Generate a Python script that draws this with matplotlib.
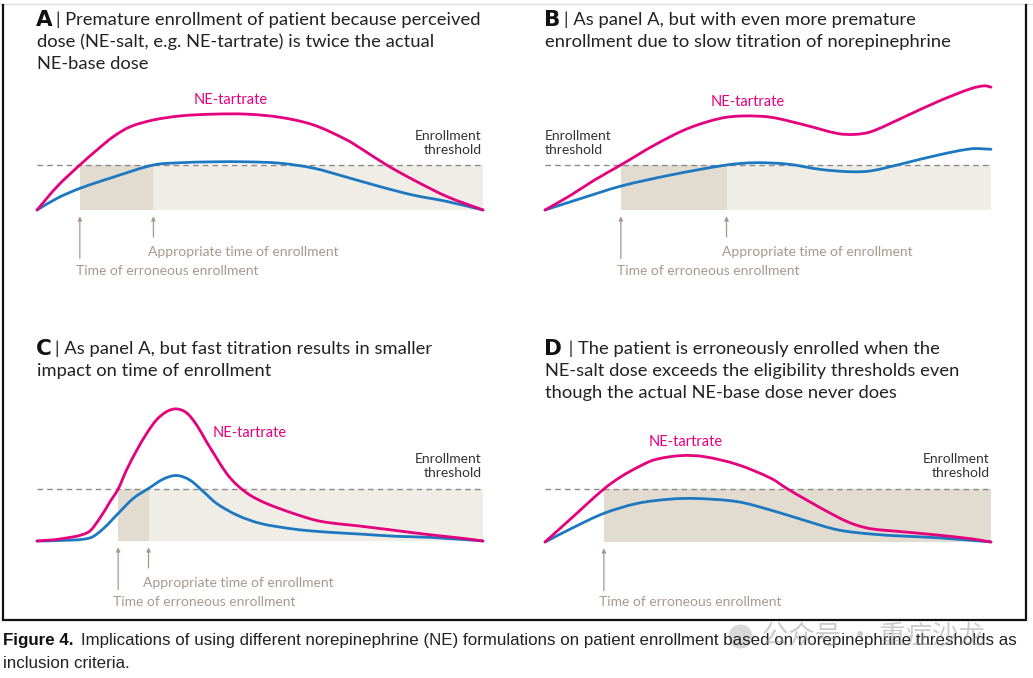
import matplotlib
matplotlib.use("Agg")
from matplotlib import pyplot as plt
from matplotlib import font_manager
from matplotlib.path import Path
from matplotlib.patches import PathPatch

W, H = 1033, 678

# time axis 0..100 (arbitrary), dose in units of the enrollment threshold (1 = threshold)
a_t_tart = [0, 4.5, 9.6, 13.4, 17.1, 20.9, 26.1, 32.1, 39.5, 47.0, 54.5, 62.0, 69.4, 73.2, 78.4, 84.4, 91.9, 100]
a_tart = [0, 0.52, 1.0, 1.33, 1.63, 1.85, 2.0, 2.09, 2.13, 2.13, 2.06, 1.89, 1.56, 1.33, 1.0, 0.67, 0.30, 0]
a_t_base = [0, 4.5, 9.6, 17.1, 26.1, 32.1, 39.5, 47.0, 54.5, 62.0, 69.4, 76.9, 84.4, 91.9, 100]
a_base = [0, 0.26, 0.48, 0.73, 1.0, 1.05, 1.07, 1.07, 1.04, 0.93, 0.73, 0.52, 0.33, 0.19, 0]

b_t_tart = [0, 5.8, 11.0, 17.0, 24.5, 32.0, 39.5, 44.7, 50.7, 58.2, 65.6, 69.4, 73.1, 80.6, 88.1, 95.6, 98.6, 100]
b_tart = [0, 0.33, 0.66, 1.0, 1.44, 1.81, 2.04, 2.09, 2.06, 1.89, 1.70, 1.68, 1.74, 2.07, 2.41, 2.70, 2.76, 2.73]
b_t_base = [0, 8.5, 17.0, 28.3, 40.7, 46.9, 54.4, 61.9, 68.6, 73.1, 80.6, 88.1, 95.6, 100]
b_base = [0, 0.27, 0.53, 0.78, 1.0, 1.05, 1.02, 0.90, 0.85, 0.87, 1.04, 1.22, 1.36, 1.35]

c_t_tart = [0, 5.2, 11.5, 14.1, 16.4, 18.2, 20.1, 22.4, 24.6, 26.8, 29.1, 31.3, 33.6, 35.8, 38.0,
            40.3, 42.5, 44.8, 47.8, 51.5, 57.5, 63.5, 73.1, 80.6, 88.1, 95.6, 100]
c_tart = [0, 0.04, 0.17, 0.44, 0.76, 1.0, 1.37, 1.75, 2.07, 2.33, 2.49, 2.54, 2.46, 2.23, 1.91,
          1.59, 1.30, 1.08, 0.88, 0.72, 0.53, 0.38, 0.28, 0.20, 0.12, 0.05, 0]
c_t_base = [0, 5.2, 11.9, 14.9, 18.2, 21.6, 25.0, 28.3, 31.3, 34.3, 37.3, 40.3, 44.8, 50.0,
            57.5, 63.5, 73.1, 80.6, 88.1, 100]
c_base = [0, 0.01, 0.06, 0.24, 0.53, 0.82, 1.01, 1.19, 1.26, 1.17, 0.95, 0.72, 0.50, 0.34,
          0.23, 0.18, 0.13, 0.09, 0.07, 0]

d_t_tart = [0, 5.8, 13.2, 17.0, 20.8, 24.5, 30.5, 35.7, 43.2, 50.7, 54.4, 58.1, 65.6, 69.4, 73.1, 80.6, 88.1, 95.6, 100]
d_tart = [0, 0.44, 1.0, 1.23, 1.41, 1.55, 1.63, 1.61, 1.46, 1.20, 1.0, 0.82, 0.47, 0.33, 0.25, 0.19, 0.13, 0.06, 0]
d_t_base = [0, 5.8, 13.2, 20.8, 28.3, 34.2, 43.2, 50.7, 58.1, 65.6, 73.1, 80.6, 88.1, 100]
d_base = [0, 0.25, 0.54, 0.73, 0.81, 0.82, 0.76, 0.60, 0.41, 0.23, 0.15, 0.11, 0.08, 0]

# enrollment times (erroneous, appropriate); None = never appropriate
a_enroll = (9.6, 26.1)
b_enroll = (17.0, 40.7)
c_enroll = (18.2, 25.0)
d_enroll = (13.2, None)

threshold = 1.0

titles = {
    "A": "| Premature enrollment of patient because perceived\ndose (NE-salt, e.g. NE-tartrate) is twice the actual\nNE-base dose",
    "B": "| As panel A, but with even more premature\nenrollment due to slow titration of norepinephrine",
    "C": "| As panel A, but fast titration results in smaller\nimpact on time of enrollment",
    "D": " | The patient is erroneously enrolled when the\nNE-salt dose exceeds the eligibility thresholds even\nthough the actual NE-base dose never does",
}

MAGENTA = "#E5007D"
BLUE = "#1C78C0"
TAUPE = "#A8998F"
LIGHT = "#F0EDE7"
DARK = "#E2DBD0"

names = {f.name for f in font_manager.fontManager.ttflist}
narrow = "Liberation Sans Narrow" if "Liberation Sans Narrow" in names else "Liberation Sans"
TFONT = ["Lato", "DejaVu Sans"]

fig = plt.figure(figsize=(W / 100, H / 100), dpi=100)
fig.patch.set_facecolor("white")

# overlay in pixel coordinates for frame and text
ov = fig.add_axes([0, 0, 1, 1])
ov.set_xlim(0, W)
ov.set_ylim(H, 0)
ov.axis("off")


def smooth_curve(ax, t, y, color, z):
    # draw the read points as one smooth bezier path (hermite tangents)
    n = len(t)
    slopes = []
    for i in range(n):
        a = max(i - 1, 0)
        b = min(i + 1, n - 1)
        slopes.append((y[b] - y[a]) / (t[b] - t[a]))
    verts = [(t[0], y[0])]
    codes = [Path.MOVETO]
    for i in range(n - 1):
        dt = (t[i + 1] - t[i]) / 3
        verts += [(t[i] + dt, y[i] + slopes[i] * dt),
                  (t[i + 1] - dt, y[i + 1] - slopes[i + 1] * dt),
                  (t[i + 1], y[i + 1])]
        codes += [Path.CURVE4] * 3
    ax.add_patch(PathPatch(Path(verts, codes), fill=False, edgecolor=color, lw=2.0,
                           zorder=z, clip_on=False, capstyle="round", joinstyle="round"))


def panel(x0, x1, ybase, unit, ymax, tt, tart, tb, base, enroll, all_dark=False):
    ax = fig.add_axes([x0 / W, (H - ybase) / H, (x1 - x0) / W, unit * ymax / H])
    ax.set_xlim(0, 100)
    ax.set_ylim(0, ymax)
    ax.axis("off")
    err, app = enroll
    if all_dark:
        ax.fill_between([err, 100], 0, threshold, color=DARK, lw=0, zorder=1)
    else:
        ax.fill_between([err, 100], 0, threshold, color=LIGHT, lw=0, zorder=1)
        ax.fill_between([err, app], 0, threshold, color=DARK, lw=0, zorder=1)
    ax.plot([0, 100], [threshold, threshold], color="#8a8a8a", lw=1.0,
            dashes=(4, 3), zorder=2, clip_on=False)
    smooth_curve(ax, tb, base, BLUE, 3)
    smooth_curve(ax, tt, tart, MAGENTA, 4)
    # arrows below the baseline
    ax.annotate("", xy=(err, -0.14 * 45 / unit), xytext=(err, -1.08 * 45 / unit),
                arrowprops=dict(arrowstyle="-|>", color=TAUPE, lw=0.9,
                                mutation_scale=6, shrinkA=0, shrinkB=0),
                annotation_clip=False)
    if app is not None:
        ax.annotate("", xy=(app, -0.14 * 45 / unit), xytext=(app, -0.6 * 45 / unit),
                    arrowprops=dict(arrowstyle="-|>", color=TAUPE, lw=0.9,
                                    mutation_scale=6, shrinkA=0, shrinkB=0),
                    annotation_clip=False)
    return ax


panel(37, 483, 210, 45, 3.0, a_t_tart, a_tart, a_t_base, a_base, a_enroll)
panel(545, 991, 210, 45, 3.0, b_t_tart, b_tart, b_t_base, b_base, b_enroll)
panel(37, 483, 541, 52, 2.9, c_t_tart, c_tart, c_t_base, c_base, c_enroll)
panel(545, 991, 542, 53, 2.8, d_t_tart, d_tart, d_t_base, d_base, d_enroll, all_dark=True)

# panel titles
for letter, (x, y) in {"A": (36, 20), "B": (544, 20), "C": (36, 349), "D": (544, 349)}.items():
    ov.text(x, y, letter, fontsize=15.5, fontweight="bold", family=["DejaVu Sans"],
            va="center", ha="left", color="#111")
    ov.text(x + (20 if letter != "C" else 19), y, titles[letter].split("\n")[0], fontsize=13.2,
            family=TFONT, va="center", ha="left", color="#222")
    for i, line in enumerate(titles[letter].split("\n")[1:]):
        ov.text(x + 1, y + 22 * (i + 1), line, fontsize=13.2, family=TFONT,
                va="center", ha="left", color="#222")

lab = dict(fontsize=10.5, family=TFONT, va="center")
# curve labels
ov.text(231, 100, "NE-tartrate", color=MAGENTA, ha="center", **lab)
ov.text(288, 181, "NE-base", color=BLUE, ha="center", **lab)
ov.text(748, 102, "NE-tartrate", color=MAGENTA, ha="center", **lab)
ov.text(841, 186, "NE-base", color=BLUE, ha="center", **lab)
ov.text(213, 433, "NE-tartrate", color=MAGENTA, ha="left", **lab)
ov.text(206, 520, "NE-base", color=BLUE, ha="center", **lab)
ov.text(686, 442, "NE-tartrate", color=MAGENTA, ha="center", **lab)
ov.text(686, 515, "NE-base", color=BLUE, ha="center", **lab)

# threshold labels
thr = dict(fontsize=10, family=TFONT, va="center", color="#333", linespacing=1.25)
ov.text(482, 143, "Enrollment\nthreshold", ha="right", multialignment="right", **thr)
ov.text(545, 143, "Enrollment\nthreshold", ha="left", **thr)
ov.text(482, 466, "Enrollment\nthreshold", ha="right", multialignment="right", **thr)
ov.text(990, 466, "Enrollment\nthreshold", ha="right", multialignment="right", **thr)

# arrow labels
arr = dict(fontsize=10, family=TFONT, va="center", ha="left", color=TAUPE)
ov.text(148, 252, "Appropriate time of enrollment", **arr)
ov.text(76, 271, "Time of erroneous enrollment", **arr)
ov.text(722, 252, "Appropriate time of enrollment", **arr)
ov.text(617, 271, "Time of erroneous enrollment", **arr)
ov.text(143, 583, "Appropriate time of enrollment", **arr)
ov.text(113, 602, "Time of erroneous enrollment", **arr)
ov.text(599, 602, "Time of erroneous enrollment", **arr)

# frame
ov.plot([0, W], [4, 4], color="#dddddd", lw=1)
ov.plot([2.5, 2.5, 1025.5, 1025.5], [5, 619.5, 619.5, 5], color="#111", lw=1.6,
        solid_joinstyle="miter")

# caption
cap = dict(fontsize=12.2, family=[narrow, "DejaVu Sans"], va="center", ha="left")
ov.text(3, 641, "Figure 4.", fontweight="bold", color="#111", **cap)
ov.text(81, 641, "Implications of using different norepinephrine (NE) formulations on patient "
        "enrollment based on norepinephrine thresholds as", color="#222", **cap)
ov.text(3, 664, "inclusion criteria.", color="#222", **cap)

# watermark
ov.text(762, 636, "公众号 · 重症沙龙", fontsize=19, family=["Noto Sans CJK SC", "DejaVu Sans"],
        va="center", ha="left", color="#999999", alpha=0.5)
ov.scatter([740], [636], s=300, color="#aaaaaa", alpha=0.45, lw=0)

fig.savefig("out.png", dpi=100)
